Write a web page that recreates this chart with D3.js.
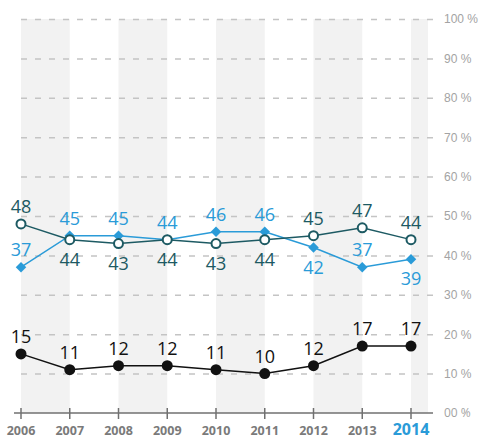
<!DOCTYPE html>
<html>
<head>
<meta charset="utf-8">
<script src="https://cdn.jsdelivr.net/npm/d3@7"></script>
<style>
  body { margin: 0; background: #fff; }
  svg { display: block; font-family: "Open Sans", sans-serif; }
</style>
</head>
<body>
<div id="chart"></div>
<script>
const years = ["2006", "2007", "2008", "2009", "2010", "2011", "2012", "2013", "2014"];
const tealValues = [48, 44, 43, 44, 43, 44, 45, 47, 44];
const blueValues = [37, 45, 45, 44, 46, 46, 42, 37, 39];
const blackValues = [15, 11, 12, 12, 11, 10, 12, 17, 17];
const yTicks = [0, 10, 20, 30, 40, 50, 60, 70, 80, 90, 100];
const yTickLabels = ["00 %", "10 %", "20 %", "30 %", "40 %", "50 %", "60 %", "70 %", "80 %", "90 %", "100 %"];
// label side: 1 = above the point, -1 = below
const tealSide = [1, -1, -1, -1, -1, -1, 1, 1, 1];
const blueSide = [1, 1, 1, 1, 1, 1, -1, 1, -1];

const w = 483;
const h = 439;
const teal = "#1d5a63";
const blue = "#2a9bd8";

const svg = d3.select("#chart")
    .append("svg")
    .attr("width", w)
    .attr("height", h);

const x = d3.scalePoint().domain(years).range([21, 411]);
const y = d3.scaleLinear().domain([0, 100]).range([413, 19]);
const step = x.step();

// grey columns
svg.append("g")
    .selectAll("rect")
    .data(years.filter((d, i) => i % 2 === 0))
    .enter()
    .append("rect")
    .attr("x", d => x(d))
    .attr("y", y(100))
    .attr("width", d => Math.min(step, 428 - x(d)))
    .attr("height", y(0) - y(100))
    .attr("fill", "#f2f2f2");

// dashed gridlines + right labels
const yAxis = d3.axisRight(y)
    .tickValues(yTicks.filter(d => d > 0))
    .tickSize(-(433 - 14))
    .tickFormat(d => yTickLabels[yTicks.indexOf(d)]);

svg.append("g")
    .attr("transform", "translate(433,0)")
    .call(yAxis)
    .call(g => g.select(".domain").remove())
    .call(g => g.selectAll(".tick line")
        .attr("stroke", "#c4c4c4")
        .attr("stroke-width", 1.5)
        .attr("stroke-dasharray", "6,8"))
    .call(g => g.selectAll(".tick text")
        .attr("x", 11)
        .attr("fill", "#a3a3a3")
        .style("font-size", "12px"));

svg.append("text")
    .attr("x", 444)
    .attr("y", y(0))
    .attr("dy", "0.35em")
    .attr("fill", "#a3a3a3")
    .style("font-size", "12px")
    .text(yTickLabels[0]);

// x axis
svg.append("line")
    .attr("x1", 14).attr("x2", 433)
    .attr("y1", y(0)).attr("y2", y(0))
    .attr("stroke", "#707070")
    .attr("stroke-width", 1.5);

svg.append("g")
    .selectAll("line")
    .data(years)
    .enter()
    .append("line")
    .attr("x1", d => x(d)).attr("x2", d => x(d))
    .attr("y1", y(0) - 5).attr("y2", y(0) + 6)
    .attr("stroke", "#707070")
    .attr("stroke-width", 1.5);

svg.append("g")
    .selectAll("text")
    .data(years)
    .enter()
    .append("text")
    .attr("x", d => x(d))
    .attr("y", 435)
    .attr("text-anchor", "middle")
    .attr("fill", (d, i) => i === years.length - 1 ? blue : "#7a7a7a")
    .style("font-weight", "bold")
    .style("font-size", (d, i) => i === years.length - 1 ? "16px" : "12.5px")
    .text(d => d);

const line = d3.line()
    .x((d, i) => x(years[i]))
    .y(d => y(d));

function drawSeries(values, color, marker, sides) {
    svg.append("path")
        .datum(values)
        .attr("d", line)
        .attr("fill", "none")
        .attr("stroke", color)
        .attr("stroke-width", 1.5);

    const g = svg.append("g");
    if (marker === "open") {
        g.selectAll("circle").data(values).enter().append("circle")
            .attr("cx", (d, i) => x(years[i]))
            .attr("cy", d => y(d))
            .attr("r", 4.5)
            .attr("fill", "#fff")
            .attr("stroke", color)
            .attr("stroke-width", 2);
    } else if (marker === "dot") {
        g.selectAll("circle").data(values).enter().append("circle")
            .attr("cx", (d, i) => x(years[i]))
            .attr("cy", d => y(d))
            .attr("r", 5.5)
            .attr("fill", color);
    } else {
        g.selectAll("path").data(values).enter().append("path")
            .attr("d", d3.symbol().type(d3.symbolDiamond2).size(70))
            .attr("transform", (d, i) => `translate(${x(years[i])},${y(d)})`)
            .attr("fill", color);
    }

    svg.append("g")
        .selectAll("text")
        .data(values)
        .enter()
        .append("text")
        .attr("x", (d, i) => x(years[i]))
        .attr("y", (d, i) => sides[i] > 0 ? y(d) - 11 : y(d) + 26)
        .attr("text-anchor", "middle")
        .attr("fill", color)
        .style("font-size", "18px")
        .text(d => d);
}

drawSeries(blackValues, "#111", "dot", blackValues.map(() => 1));
drawSeries(blueValues, blue, "diamond", blueSide);
drawSeries(tealValues, teal, "open", tealSide);
</script>
</body>
</html>
